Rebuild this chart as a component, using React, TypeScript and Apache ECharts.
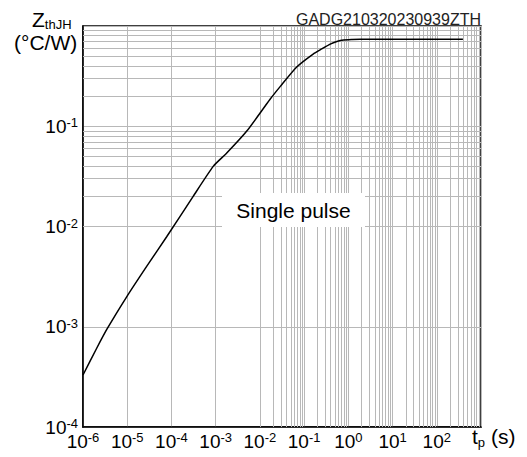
import React, { useEffect, useRef } from "react";
import * as echarts from "echarts";

// Curve: transient thermal impedance, single pulse
const tp = [1e-6, 2e-6, 3.5e-6, 9.8e-6, 2.75e-5, 7.8e-5, 3.1e-4, 8.9e-4, 1.78e-3, 5.0e-3, 1.7e-2, 2.9e-2, 6.8e-2, 0.16, 0.25, 0.39, 0.55, 0.78, 1.2, 1.86, 10, 100, 390];
const zth = [3.3e-4, 6.0e-4, 9.5e-4, 2.0e-3, 4.0e-3, 7.9e-3, 2.0e-2, 4.0e-2, 5.4e-2, 8.9e-2, 0.186, 0.25, 0.39, 0.525, 0.59, 0.66, 0.70, 0.724, 0.732, 0.736, 0.737, 0.737, 0.737];

// Decade exponents for the axes
const xDecades = [-6, -5, -4, -3, -2, -1, 0, 1, 2];
const yDecades = [-4, -3, -2, -1];
const minorMultipliers = [2, 3, 4, 5, 6, 7, 8, 9];

const FONT = "'Liberation Sans', Arial, sans-serif";
const GRID_COLOR = "#b8b8b8";

const richTick = {
  b: { fontSize: 19, fontFamily: FONT, color: "#000", lineHeight: 20 },
  s: { fontSize: 13, fontFamily: FONT, color: "#000", verticalAlign: "top", lineHeight: 20 },
};

function expLabel(v: number, allowed: number[]) {
  const e = Math.round(Math.log10(v));
  if (!allowed.includes(e)) return "";
  return `{b|10}{s|${e}}`;
}

export default function App() {
  const ref = useRef<HTMLDivElement>(null);
  useEffect(() => {
    if (!ref.current) return;
    const chart = echarts.init(ref.current, undefined, { renderer: "svg" });

    const minorLines: any[] = [];
    xDecades.forEach((e) =>
      minorMultipliers.forEach((m) => minorLines.push({ xAxis: m * Math.pow(10, e) }))
    );
    yDecades.forEach((e) =>
      minorMultipliers.forEach((m) => minorLines.push({ yAxis: m * Math.pow(10, e) }))
    );

    chart.setOption({
      animation: false,
      backgroundColor: "#fff",
      grid: {
        left: 83,
        right: 46,
        top: 26,
        bottom: 30,
        show: true,
        borderColor: "#000",
        borderWidth: 1.5,
        backgroundColor: "transparent",
        containLabel: false,
        outerBoundsMode: "none",
      },
      xAxis: {
        type: "log",
        logBase: 10,
        min: 1e-6,
        max: 1e3,
        splitNumber: 9,
        axisLine: { show: true, lineStyle: { color: "#000", width: 1.5 } },
        axisTick: { show: false },
        splitLine: { show: true, lineStyle: { color: GRID_COLOR, width: 1 } },
        axisLabel: {
          margin: 4,
          formatter: (v: number) => expLabel(v, xDecades),
          rich: richTick,
        },
      },
      yAxis: {
        type: "log",
        logBase: 10,
        min: 1e-4,
        max: 1,
        splitNumber: 4,
        axisLine: { show: true, lineStyle: { color: "#000", width: 1.5 } },
        axisTick: { show: false },
        splitLine: { show: true, lineStyle: { color: GRID_COLOR, width: 1 } },
        axisLabel: {
          margin: 5,
          formatter: (v: number) => expLabel(v, yDecades),
          rich: richTick,
        },
      },
      series: [
        {
          type: "line",
          data: tp.map((t, i) => [t, zth[i]]),
          showSymbol: false,
          smooth: 0.2,
          lineStyle: { color: "#000", width: 1.5 },
          z: 5,
          markLine: {
            silent: true,
            symbol: ["none", "none"],
            label: { show: false },
            lineStyle: { color: GRID_COLOR, width: 1, type: "solid" },
            emphasis: { disabled: true },
            data: minorLines,
            z: 1,
          },
        },
      ],
      graphic: [
        {
          type: "text",
          left: 32,
          top: 9,
          style: {
            text: "{z|Z}{s|thJH}",
            rich: {
              z: { fontSize: 21, fontFamily: FONT, fill: "#000", lineHeight: 22 },
              s: { fontSize: 13, fontFamily: FONT, fill: "#000", verticalAlign: "bottom", lineHeight: 22 },
            },
          },
        },
        {
          type: "text",
          left: 14,
          top: 32,
          style: { text: "(°C/W)", fontSize: 21, fontFamily: FONT, fill: "#000" },
        },
        {
          type: "text",
          right: 46,
          top: 11,
          style: { text: "GADG210320230939ZTH", fontSize: 16, fontFamily: FONT, fill: "#222" },
        },
        {
          type: "text",
          left: 472,
          top: 426,
          style: {
            text: "{t|t}{p|p}{t| (s)}",
            rich: {
              t: { fontSize: 21, fontFamily: FONT, fill: "#000", lineHeight: 24 },
              p: { fontSize: 13, fontFamily: FONT, fill: "#000", verticalAlign: "bottom", lineHeight: 24 },
            },
          },
        },
        {
          type: "rect",
          shape: { x: 222, y: 193, width: 143, height: 34 },
          style: { fill: "#fff" },
          z: 100,
        },
        {
          type: "text",
          x: 293.5,
          y: 210,
          z: 101,
          style: {
            text: "Single pulse",
            fontSize: 21,
            fontFamily: FONT,
            fill: "#000",
            align: "center",
            verticalAlign: "middle",
          },
        },
      ],
    });
    return () => chart.dispose();
  }, []);

  return (
    <div
      ref={ref}
      style={{ position: "fixed", left: 0, top: 0, width: 527, height: 457 }}
    />
  );
}
